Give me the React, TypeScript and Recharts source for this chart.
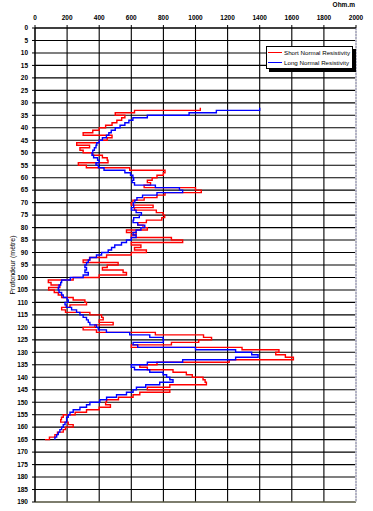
import { LineChart, Line, XAxis, YAxis, CartesianGrid, Legend, ReferenceLine } from 'recharts';

// depth in metres, one reading per metre
const depthM = [
  32, 33, 34, 35, 36, 37, 38, 39, 40, 41,
  42, 43, 44, 45, 46, 47, 48, 49, 50, 51,
  52, 53, 54, 55, 56, 57, 58, 59, 60, 61,
  62, 63, 64, 65, 66, 67, 68, 69, 70, 71,
  72, 73, 74, 75, 76, 77, 78, 79, 80, 81,
  82, 83, 84, 85, 86, 87, 88, 89, 90, 91,
  92, 93, 94, 95, 96, 97, 98, 99, 100, 101,
  102, 103, 104, 105, 106, 107, 108, 109, 110, 111,
  112, 113, 114, 115, 116, 117, 118, 119, 120, 121,
  122, 123, 124, 125, 126, 127, 128, 129, 130, 131,
  132, 133, 134, 135, 136, 137, 138, 139, 140, 141,
  142, 143, 144, 145, 146, 147, 148, 149, 150, 151,
  152, 153, 154, 155, 156, 157, 158, 159, 160, 161,
  162, 163, 164, 165
];

// Ohm.m
const shortNormal = [
  1030, 620, 500, 560, 540, 510, 480, 440, 400, 360,
  300, 480, 450, 400, 260, 340, 280, 300, 360, 420,
  450, 455, 270, 320, 590, 810, 800, 760, 730, 700,
  720, 680, 1000, 1036, 810, 760, 680, 610, 600, 736,
  620, 756, 798, 808, 790, 694, 640, 673, 700, 570,
  630, 600, 850, 920, 600, 660, 620, 694, 600, 446,
  340, 300, 518, 450, 420, 549, 570, 400, 238, 83,
  100, 155, 85, 120, 145, 166, 238, 311, 321, 218,
  166, 190, 342, 415, 425, 400, 487, 373, 300, 383,
  750, 1050, 1100, 1020, 850, 600, 1290, 1520, 1500, 1560,
  1610, 1210, 760, 653, 700, 860, 943, 980, 1047, 1060,
  1068, 840, 700, 840, 653, 611, 520, 446, 440, 470,
  400, 321, 250, 176, 165, 160, 207, 238, 190, 176,
  140, 124, 90, 62
];

const longNormal = [
  1400, 1130, 960, 700, 610, 585, 560, 530, 500, 475,
  460, 445, 420, 400, 385, 380, 370, 360, 355, 365,
  390, 400, 380, 395, 430, 560, 595, 610, 615, 605,
  620, 750, 900, 920, 760, 670, 635, 622, 612, 615,
  601, 630, 663, 650, 615, 611, 640, 684, 660, 630,
  611, 630, 600, 570, 539, 497, 477, 456, 415, 383,
  342, 332, 321, 311, 321, 311, 332, 300, 220, 166,
  160, 150, 145, 150, 166, 176, 200, 207, 187, 195,
  228, 259, 280, 300, 321, 332, 342, 383, 394, 445,
  590, 715, 798, 800, 611, 640, 1000, 1250, 1350, 1390,
  1250, 920, 700, 600, 620, 715, 798, 820, 840, 860,
  777, 690, 632, 611, 570, 508, 446, 404, 342, 321,
  280, 238, 218, 207, 197, 197, 187, 176, 166, 155,
  145, 135, 124, 124
];

const ohmTicks = [0, 200, 400, 600, 800, 1000, 1200, 1400, 1600, 1800, 2000];
const depthTicks = [
  0, 5, 10, 15, 20, 25, 30, 35, 40, 45, 50, 55, 60, 65, 70, 75, 80, 85, 90, 95,
  100, 105, 110, 115, 120, 125, 130, 135, 140, 145, 150, 155, 160, 165, 170, 175,
  180, 185, 190
];

const legendItems = [
  { label: 'Short Normal Resistivity', color: '#ff0000' },
  { label: 'Long Normal Resistivity', color: '#0000ff' }
];

const rows = depthM.map((d, i) => ({ depth: d, short: shortNormal[i], long: longNormal[i] }));

const font = '"Liberation Sans", Arial, sans-serif';
const tickStyle = { fontSize: 6.5, fontWeight: 'bold', fill: '#000', fontFamily: font };

function LogLegend() {
  return (
    <div
      style={{
        width: 87,
        background: '#fff',
        border: '1px solid #000',
        boxShadow: '3px 3px 0 #000',
        padding: '1px 0 1px 1px',
        fontFamily: font,
        fontSize: 6.2,
        color: '#000',
        boxSizing: 'border-box',
        whiteSpace: 'nowrap',
        overflow: 'hidden'
      }}
    >
      {legendItems.map((item) => (
        <div key={item.label} style={{ display: 'flex', alignItems: 'center', height: 9.5 }}>
          <span
            style={{
              display: 'inline-block',
              flexShrink: 0,
              width: 14,
              height: 1,
              background: item.color,
              marginRight: 2
            }}
          />
          <span>{item.label}</span>
        </div>
      ))}
    </div>
  );
}

function DepthLabel(props: any) {
  const vb = props.viewBox || {};
  const x = 12;
  const y = (vb.y || 0) + (vb.height || 0) / 2;
  return (
    <text
      x={x}
      y={y}
      transform={`rotate(-90 ${x} ${y})`}
      textAnchor="middle"
      dominantBaseline="central"
      fontSize={7}
      fontFamily={font}
      fill="#000"
    >
      Profondeur (mètre)
    </text>
  );
}

export default function App() {
  return (
    <div style={{ position: 'absolute', left: 0, top: 0, width: 373, height: 511, background: '#fff' }}>
      <div
        style={{
          position: 'absolute',
          left: 315,
          top: 0,
          width: 40,
          height: 10,
          lineHeight: '10px',
          textAlign: 'right',
          fontFamily: font,
          fontSize: 6.5,
          fontWeight: 'bold'
        }}
      >
        Ohm.m
      </div>
      <LineChart
        width={373}
        height={511}
        layout="vertical"
        data={rows}
        margin={{ top: 8, right: 17, bottom: 9, left: 5 }}
      >
        <CartesianGrid stroke="#000" strokeWidth={1.1} />
        <XAxis
          type="number"
          orientation="top"
          domain={[0, 2000]}
          ticks={ohmTicks}
          interval={0}
          height={20}
          tickSize={3}
          tickMargin={5}
          tick={tickStyle}
          stroke="#000"
          axisLine={{ stroke: '#000' }}
          tickLine={{ stroke: '#000' }}
        />
        <YAxis
          type="number"
          dataKey="depth"
          domain={[0, 190]}
          ticks={depthTicks}
          interval={0}
          width={30}
          tickSize={3}
          tickMargin={4}
          tick={tickStyle}
          axisLine={{ stroke: '#000' }}
          tickLine={{ stroke: '#000' }}
          label={{ content: (p: any) => <DepthLabel {...p} /> }}
        />
        <ReferenceLine x={2000} stroke="#fff" strokeWidth={1.5} />
        <ReferenceLine x={2000} stroke="#8a8ab0" strokeDasharray="2 1" />
        <ReferenceLine y={190} stroke="#7d7d5c" strokeWidth={1.2} />
        <Line
          type="stepBefore"
          dataKey="short"
          stroke="#ff0000"
          strokeWidth={1.4}
          dot={false}
          isAnimationActive={false}
        />
        <Line
          type="stepBefore"
          dataKey="long"
          stroke="#0000ff"
          strokeWidth={1.4}
          dot={false}
          isAnimationActive={false}
        />
        <Legend
          layout="vertical"
          align="center"
          verticalAlign="middle"
          content={() => <LogLegend />}
          wrapperStyle={{ left: 266, top: 46, width: 90 }}
        />
      </LineChart>
    </div>
  );
}
